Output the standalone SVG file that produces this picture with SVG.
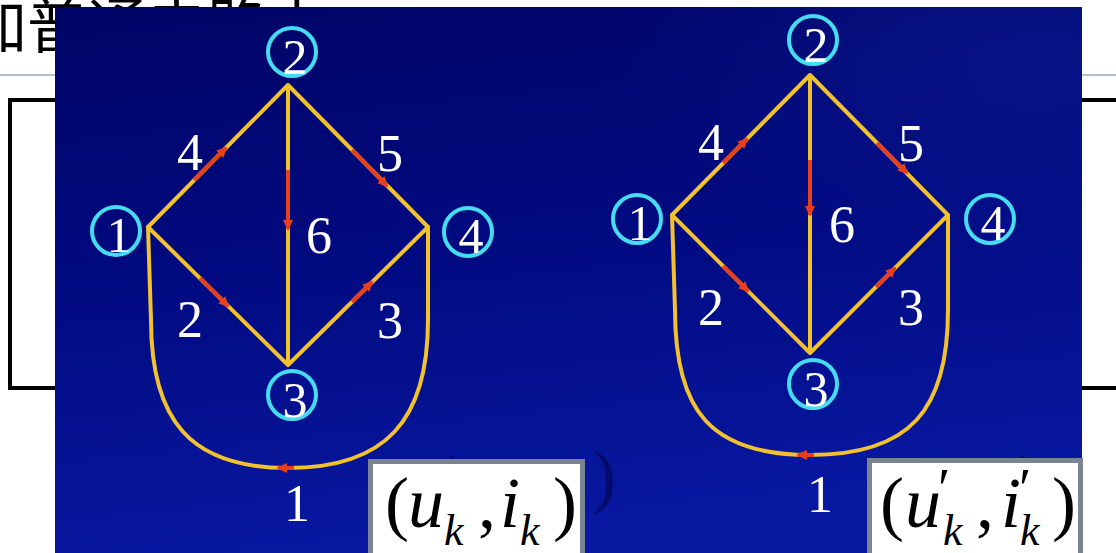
<svg xmlns="http://www.w3.org/2000/svg" width="1116" height="553" viewBox="0 0 1116 553">
<defs>
<linearGradient id="bg" x1="0" y1="0" x2="0.2" y2="1">
<stop offset="0" stop-color="#000566"/>
<stop offset="0.5" stop-color="#010a80"/>
<stop offset="1" stop-color="#0818a0"/>
</linearGradient>
<radialGradient id="glow" cx="0.95" cy="0.1" r="0.4">
<stop offset="0" stop-color="#1428a8" stop-opacity="0.35"/>
<stop offset="1" stop-color="#1428a8" stop-opacity="0"/>
</radialGradient>
<marker id="ah" markerUnits="userSpaceOnUse" markerWidth="14" markerHeight="12" refX="9" refY="5" orient="auto">
<path d="M0,0 L11,5 L0,10 z" fill="#e8401c"/>
</marker>
<style>
.edge{fill:none;stroke:#f2c22e;stroke-width:4;stroke-linejoin:round;stroke-linecap:round}
.red{fill:none;stroke:#e8401c;stroke-width:4;marker-end:url(#ah)}
.node{fill:none;stroke:#45dcef;stroke-width:4}
.nl{font-size:50px;fill:#ffffff;text-anchor:middle}
.el{font-size:52px;fill:#ffffff;text-anchor:middle}
.box{fill:#ffffff;stroke:#7b8591;stroke-width:5}
.m{font-size:72px;fill:#000000}
.it{font-style:italic}
.sub{font-style:italic;font-size:44px}
.pr{font-size:56px}
.ghost{font-size:72px;fill:#000030;opacity:0.45}
</style>
</defs>
<rect width="1116" height="553" fill="#ffffff"/>
<g id="background-slide">
<text x="-33" y="48" font-family="Noto Sans CJK SC, sans-serif" font-size="60" fill="#000000">加普通电路中</text>
<line x1="0" y1="75" x2="1116" y2="75" stroke="#b4c0cc" stroke-width="2"/>
<rect x="10" y="100" width="1130" height="288" fill="none" stroke="#000000" stroke-width="4"/>
</g>
<g id="panel">
<rect x="55" y="7" width="1027" height="546" fill="url(#bg)"/>
<rect x="55" y="7" width="1027" height="546" fill="url(#glow)"/>
<g font-family="Liberation Serif, Times New Roman, serif">
<text class="ghost" x="432" y="505">(</text>
<text class="ghost" x="592" y="500">)</text>
<text class="ghost" x="1003" y="505">(</text>
</g>
</g>
<g id="connectors">
<path class="edge" d="M148,227 L288,85 L428,227 L288,365 L148,227 M288,85 L288,365"/>
<path class="edge" d="M148,227 L151,320 C151,420 190,468 288,468 C386,468 428,420 428,320 L428,227"/>
<line class="red" x1="194" y1="180" x2="226" y2="148"/>
<line class="red" x1="352" y1="150" x2="387" y2="186"/>
<line class="red" x1="288" y1="170" x2="288" y2="229"/>
<line class="red" x1="200" y1="278" x2="228" y2="306"/>
<line class="red" x1="352" y1="302" x2="372" y2="282"/>
<line class="red" x1="294" y1="468" x2="278" y2="468"/>
<path class="edge" d="M672,215 L810,75 L948,215 L810,353 L672,215 M810,75 L810,353"/>
<path class="edge" d="M672,215 L675,310 C675,410 710,455 810,455 C910,455 948,410 948,310 L948,215"/>
<line class="red" x1="723" y1="163" x2="747" y2="139"/>
<line class="red" x1="877" y1="143" x2="907" y2="173"/>
<line class="red" x1="810" y1="160" x2="810" y2="215"/>
<line class="red" x1="723" y1="266" x2="748" y2="291"/>
<line class="red" x1="876" y1="287" x2="895" y2="268"/>
<line class="red" x1="814" y1="455" x2="798" y2="455"/>
</g>
<g id="edge-labels" font-family="Liberation Serif, Times New Roman, serif">
<text class="el" x="190" y="170">4</text>
<text class="el" x="390" y="171">5</text>
<text class="el" x="319" y="253">6</text>
<text class="el" x="190" y="337">2</text>
<text class="el" x="390" y="338">3</text>
<text class="el" x="297" y="521">1</text>
<text class="el" x="711" y="160">4</text>
<text class="el" x="911" y="161">5</text>
<text class="el" x="842" y="242">6</text>
<text class="el" x="711" y="325">2</text>
<text class="el" x="911" y="325">3</text>
<text class="el" x="820" y="512">1</text>
</g>
<g id="nodes" font-family="Liberation Serif, Times New Roman, serif">
<g id="L1"><circle class="node" cx="116" cy="231" r="24"/><text class="nl" x="119" y="252">1</text></g>
<g id="L2"><circle class="node" cx="292" cy="52" r="24"/><text class="nl" x="295" y="74">2</text></g>
<g id="L3"><circle class="node" cx="292" cy="395" r="24"/><text class="nl" x="295" y="417">3</text></g>
<g id="L4"><circle class="node" cx="468" cy="232" r="24"/><text class="nl" x="471" y="253">4</text></g>
<g id="R1"><circle class="node" cx="637" cy="219" r="24"/><text class="nl" x="640" y="240">1</text></g>
<g id="R2"><circle class="node" cx="813" cy="40" r="24"/><text class="nl" x="816" y="62">2</text></g>
<g id="R3"><circle class="node" cx="813" cy="384" r="24"/><text class="nl" x="816" y="406">3</text></g>
<g id="R4"><circle class="node" cx="990" cy="219" r="24"/><text class="nl" x="993" y="240">4</text></g>
</g>
<g id="label-left" font-family="Liberation Serif, Times New Roman, serif">
<rect class="box" x="370.5" y="461.5" width="212" height="100"/>
<text class="m"><tspan x="385" y="527">(</tspan><tspan class="it" x="408" y="527">u</tspan><tspan class="sub" x="444" y="545">k</tspan><tspan x="478" y="527">,</tspan><tspan class="it" x="500" y="527">i</tspan><tspan class="sub" x="520" y="545">k</tspan><tspan x="553" y="527">)</tspan></text>
</g>
<g id="label-right" font-family="Liberation Serif, Times New Roman, serif">
<rect class="box" x="869.5" y="460.5" width="211" height="100"/>
<text class="m"><tspan x="880" y="527">(</tspan><tspan class="it" x="905" y="527">u</tspan><tspan class="pr" x="938" y="508">′</tspan><tspan class="sub" x="943" y="545">k</tspan><tspan x="976" y="527">,</tspan><tspan class="it" x="1001" y="527">i</tspan><tspan class="pr" x="1019" y="508">′</tspan><tspan class="sub" x="1020" y="545">k</tspan><tspan x="1052" y="527">)</tspan></text>
</g>
</svg>
